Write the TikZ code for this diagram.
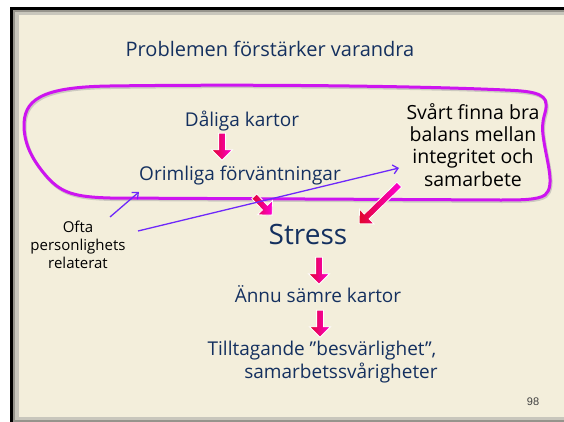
\documentclass[tikz,border=0pt]{standalone}
\usepackage{fontspec}
\setmainfont{Open Sans}
\newfontfamily\numfont{Liberation Sans}
\usetikzlibrary{shapes.arrows,arrows.meta}

\definecolor{paper}{RGB}{243,238,219}
\definecolor{framegrey}{RGB}{150,148,140}
\definecolor{framelight}{RGB}{200,198,188}
\definecolor{ink}{RGB}{20,48,95}
\definecolor{loopcol}{RGB}{205,20,240}
\definecolor{pointer}{RGB}{110,40,250}
\definecolor{arrred}{RGB}{225,5,45}
\definecolor{arrmag}{RGB}{255,0,215}

\tikzset{
  bluetext/.style={anchor=base, inner sep=0pt, text=ink},
  blacktext/.style={anchor=base, inner sep=0pt, text=black},
  blk/.style={single arrow, draw=white, line width=0.8pt, inner sep=3pt,
    minimum height=#1, single arrow head extend=7pt,
    single arrow tip angle=90, left color=arrred, right color=arrmag},
  blk/.default=27pt,
  pointerline/.style={draw=pointer, line width=1.3pt,
    -{Straight Barb[length=5pt,width=9pt,line width=1.3pt]}},
}

\begin{document}
\begin{tikzpicture}[x=1pt,y=-1pt]
\useasboundingbox (0,0) rectangle (564,422);
% page and slide frame
\fill[white] (0,0) rectangle (564,422);
\fill[black] (10,7) rectangle (564,422);
\fill[framegrey] (13,10) rectangle (564,422);
\fill[framelight] (15,12) rectangle (564,420);
\fill[paper] (19,15) rectangle (564,417);

% title
\node[bluetext] (title) at (270,57) {\fontsize{20}{24}\selectfont Problemen förstärker varandra};

% loop around the upper part
\def\looppath{(24,128) .. controls (23,100) and (40,87) .. (110,86)
  .. controls (250,84) and (420,86) .. (505,90)
  .. controls (530,91) and (546,93) .. (546,104)
  .. controls (547,113) and (541,117) .. (543,135)
  .. controls (546,160) and (556,186) .. (545,195)
  .. controls (538,200) and (520,200) .. (500,200)
  -- (110,198) .. controls (75,197) and (62,193) .. (48,178)
  .. controls (32,160) and (25,145) .. (24,128) -- cycle}
\draw[black!35, opacity=0.5, line width=3pt, shift={(1,1.5)}] \looppath;
\draw[loopcol, line width=3pt] \looppath;

% chain of problems
\node[bluetext] (dalig) at (242,127) {\fontsize{19}{23}\selectfont Dåliga kartor};
\node[bluetext] (orim) at (240,180) {\fontsize{19}{23}\selectfont Orimliga förväntningar};
\node[bluetext] (stress) at (308,244) {\fontsize{28}{32}\selectfont Stress};
\node[bluetext] (annu) at (318,302) {\fontsize{19}{23}\selectfont Ännu sämre kartor};
\node[bluetext] (till) at (322,355) {\fontsize{19}{23}\selectfont Tilltagande ”besvärlighet”,};
\node[bluetext] (samarb) at (341,378) {\fontsize{19}{23}\selectfont samarbetssvårigheter};

% balance text on the right
\node[blacktext] (bal1) at (473,120) {\fontsize{19.5}{22}\selectfont Svårt finna bra};
\node[blacktext] (bal2) at (473,142) {\fontsize{19.5}{22}\selectfont balans mellan};
\node[blacktext] (bal3) at (473,164) {\fontsize{19.5}{22}\selectfont integritet och};
\node[blacktext] (bal4) at (473,186) {\fontsize{19.5}{22}\selectfont samarbete};

% personality note on the left
\node[blacktext] (ofta1) at (78,232) {\fontsize{15}{18}\selectfont Ofta};
\node[blacktext] (ofta2) at (78,250) {\fontsize{15}{18}\selectfont personlighets};
\node[blacktext] (ofta3) at (78,268) {\fontsize{15}{18}\selectfont relaterat};

% slide number
\node[anchor=base, inner sep=0pt, text=black!75] (num) at (533,405) {\numfont\fontsize{11}{13}\selectfont 98};

% block arrow ends
\coordinate (a1s) at (222,132);  \coordinate (a1e) at (222,158);
\coordinate (a2s) at (253,195);  \coordinate (a2e) at (271,214);
\coordinate (a3s) at (401,183);  \coordinate (a3e) at (360,223);
\coordinate (a4s) at (319,256);  \coordinate (a4e) at (319,282);
\coordinate (a5s) at (320,309);  \coordinate (a5e) at (320,335);
\foreach \s/\e/\len in {a1s/a1e/27pt,a2s/a2e/26pt,a3s/a3e/56pt,a4s/a4e/27pt,a5s/a5e/27pt}
  \path (\s) -- (\e) node[midway, sloped, allow upside down, blk=\len] {};

% pointers from the personality note
\coordinate (p1s) at (110,217);  \coordinate (p1e) at (139,192);
\coordinate (p2s) at (138,231);  \coordinate (p2e) at (399,168);
\draw[pointerline] (p1s) -- (p1e);
\draw[pointerline] (p2s) -- (p2e);
\end{tikzpicture}
\end{document}
